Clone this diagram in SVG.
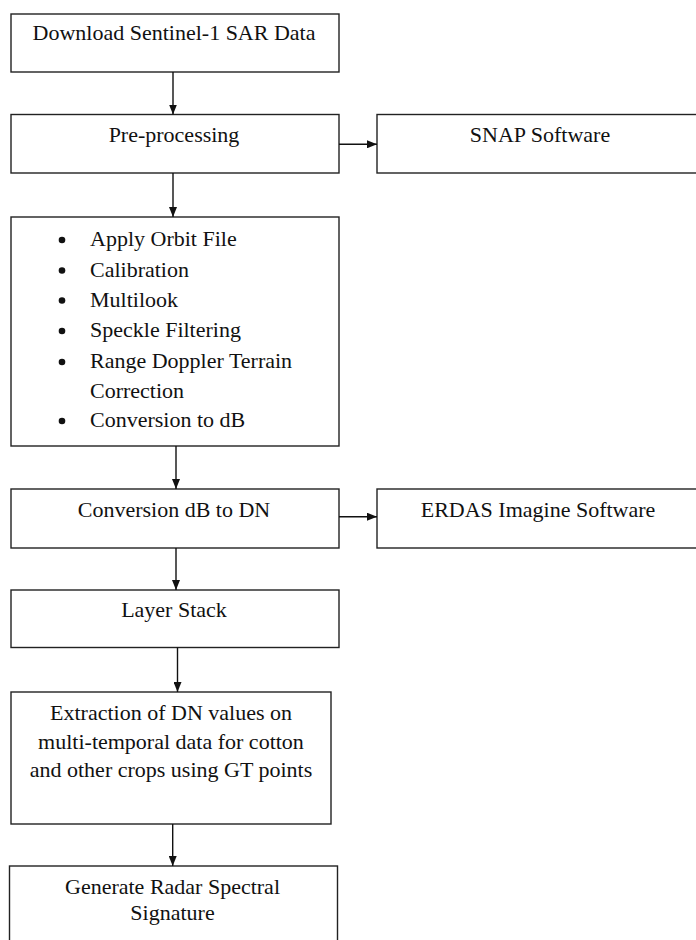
<svg xmlns="http://www.w3.org/2000/svg" width="696" height="940" viewBox="0 0 696 940">
<defs>
<style>
.box{fill:#fff;stroke:#222;stroke-width:1.4}
text{font-family:'Liberation Serif','Times New Roman','DejaVu Serif',serif;font-size:22px;fill:#111}
.c{text-anchor:middle}
.ln{stroke:#111;stroke-width:1.4;fill:none}
.dot{fill:#111}
</style>
<marker id="ah" markerWidth="10" markerHeight="8" refX="10" refY="4" orient="auto" markerUnits="userSpaceOnUse">
<path d="M0,0 L10,4 L0,8 Z" fill="#111"/>
</marker>
</defs>
<rect width="696" height="940" fill="#fff"/>
<g id="n1"><rect class="box" x="11" y="14" width="328" height="58"/><text class="c" x="174" y="39.5" font-family="Liberation Serif, serif">Download Sentinel-1 SAR Data</text></g>
<g id="n2"><rect class="box" x="11" y="114.5" width="328" height="58.5"/><text class="c" x="174" y="141.7">Pre-processing</text></g>
<g id="n3"><rect class="box" x="377" y="114.5" width="325" height="58.5"/><text class="c" x="540" y="141.7">SNAP Software</text></g>
<g id="n4"><rect class="box" x="11" y="217" width="328" height="229"/>
<circle class="dot" cx="62" cy="240" r="3.3"/><text x="90" y="246">Apply Orbit File</text>
<circle class="dot" cx="62" cy="270.5" r="3.3"/><text x="90" y="276.5">Calibration</text>
<circle class="dot" cx="62" cy="300.5" r="3.3"/><text x="90" y="306.5">Multilook</text>
<circle class="dot" cx="62" cy="331" r="3.3"/><text x="90" y="337">Speckle Filtering</text>
<circle class="dot" cx="62" cy="362" r="3.3"/><text x="90" y="368">Range Doppler Terrain</text>
<text x="90" y="398">Correction</text>
<circle class="dot" cx="62" cy="421" r="3.3"/><text x="90" y="427">Conversion to dB</text>
</g>
<g id="n5"><rect class="box" x="11" y="489" width="328" height="59"/><text class="c" x="174" y="517">Conversion dB to DN</text></g>
<g id="n6"><rect class="box" x="377" y="489" width="325" height="59"/><text class="c" x="538" y="517">ERDAS Imagine Software</text></g>
<g id="n7"><rect class="box" x="11" y="590" width="328" height="57.5"/><text class="c" x="174" y="617">Layer Stack</text></g>
<g id="n8"><rect class="box" x="11" y="692" width="320" height="132"/>
<text class="c" x="171" y="720">Extraction of DN values on</text>
<text class="c" x="171" y="748.5">multi-temporal data for cotton</text>
<text class="c" x="171" y="777">and other crops using GT points</text>
</g>
<g id="n9"><rect class="box" x="9.5" y="866" width="328" height="90"/>
<text class="c" x="172.5" y="894">Generate Radar Spectral</text>
<text class="c" x="172.5" y="920">Signature</text>
</g>
<g id="edges">
<line class="ln" x1="173" y1="72" x2="173" y2="114.5" marker-end="url(#ah)"/>
<line class="ln" x1="339" y1="144.3" x2="377" y2="144.3" marker-end="url(#ah)"/>
<line class="ln" x1="173" y1="173" x2="173" y2="217" marker-end="url(#ah)"/>
<line class="ln" x1="176" y1="446" x2="176" y2="489" marker-end="url(#ah)"/>
<line class="ln" x1="339" y1="516.7" x2="377" y2="516.7" marker-end="url(#ah)"/>
<line class="ln" x1="176" y1="548" x2="176" y2="590" marker-end="url(#ah)"/>
<line class="ln" x1="177.5" y1="647.5" x2="177.5" y2="692" marker-end="url(#ah)"/>
<line class="ln" x1="172.7" y1="824" x2="172.7" y2="866" marker-end="url(#ah)"/>
</g>
</svg>
